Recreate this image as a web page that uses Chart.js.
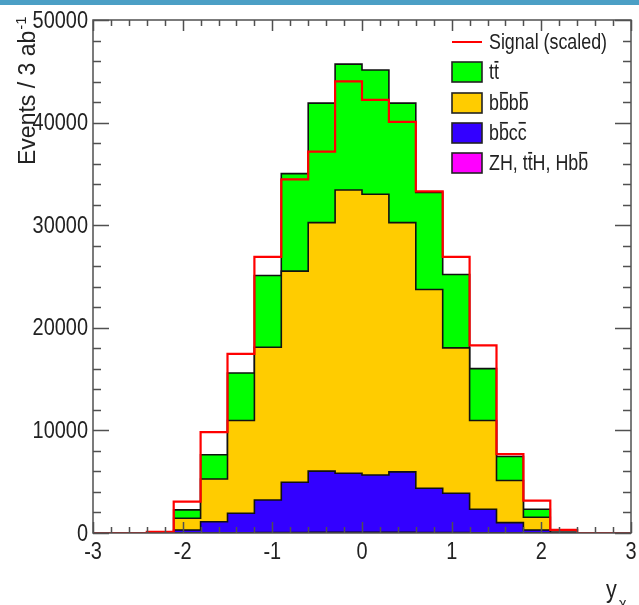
<!DOCTYPE html>
<html lang="en">
<head>
<meta charset="UTF-8">
<title>y distribution</title>
<script src="https://cdn.jsdelivr.net/npm/chart.js"></script>
<style>
  body { margin: 0; background: #fff; }
  #band { position: absolute; left: 0; top: 0; width: 639px; height: 5px; background: #4b9fc5; }
  #wrap { position: absolute; left: 0; top: 0; width: 639px; height: 605px; }
</style>
</head>
<body>
<div id="wrap"><canvas id="chart" width="639" height="605"></canvas></div>
<div id="band"></div>
<script>
// left edges of the 20 bins (width 0.3)
const binEdges = [-3, -2.7, -2.4, -2.1, -1.8, -1.5, -1.2, -0.9, -0.6, -0.3,
                  0, 0.3, 0.6, 0.9, 1.2, 1.5, 1.8, 2.1, 2.4, 2.7];
const xMax = 3;

// background components (events per bin), stacked bottom -> top
const zhEvents   = [0, 0, 0, 10, 20, 30, 40, 50, 60, 60, 60, 60, 50, 40, 30, 20, 10, 0, 0, 0];
const bbccEvents = [0, 0, 20, 280, 1080, 1890, 3180, 4900, 5970, 5770, 5600, 5900, 4310, 3840, 2280, 990, 280, 30, 0, 0];
const bbbbEvents = [0, 0, 30, 1150, 4170, 9050, 14880, 20570, 24220, 27600, 27350, 24290, 19370, 14160, 8660, 4100, 1240, 30, 0, 0];
const ttEvents   = [0, 0, 10, 810, 2350, 4630, 7000, 9510, 11650, 12270, 12110, 11650, 9470, 7160, 5050, 2340, 780, 20, 0, 0];

// signal (scaled)
const signalEvents = [0, 0, 100, 3060, 9830, 17450, 26920, 34470, 37180, 44020,
                      42220, 40070, 33300, 26920, 18290, 7690, 3160, 300, 0, 0];

// tick labels
const xTickLabels = [-3, -2, -1, 0, 1, 2, 3];
const yTickLabels = [0, 10000, 20000, 30000, 40000, 50000];

const legendLabels = ['Signal (scaled)', 'tt\u0304', 'bb\u0304bb\u0304', 'bb\u0304cc\u0304', 'ZH, tt\u0304H, Hbb\u0304'];
const colTT = '#00ff00', colBBBB = '#ffcc00', colBBCC = '#3300ff', colZH = '#ff00ff', colSig = '#ff0000';

function cumulate(...parts) {
  return parts[0].map((_, i) => parts.reduce((s, p) => s + p[i], 0));
}
function steps(vals) {
  const pts = binEdges.map((e, i) => ({ x: e, y: vals[i] }));
  pts.push({ x: xMax, y: 0 });
  return pts;
}

const cZH = cumulate(zhEvents);
const cBBCC = cumulate(zhEvents, bbccEvents);
const cBBBB = cumulate(zhEvents, bbccEvents, bbbbEvents);
const cTT = cumulate(zhEvents, bbccEvents, bbbbEvents, ttEvents);

function histo(label, vals, fillColor) {
  return {
    label: label, data: steps(vals), stepped: true, fill: 'origin',
    backgroundColor: fillColor, borderColor: '#111', borderWidth: 1.6,
    pointRadius: 0, tension: 0
  };
}

const SANS = '"Liberation Sans", Arial, sans-serif';
const SQ = 0.83; // the original plot is squeezed horizontally

// text squeezed in x, anchored at (x, y)
function sqText(ctx, str, x, y, align) {
  const w = ctx.measureText(str).width * SQ;
  let x0 = x;
  if (align === 'right') x0 = x - w;
  if (align === 'center') x0 = x - w / 2;
  ctx.save();
  ctx.translate(x0, y);
  ctx.scale(SQ, 1);
  ctx.fillText(str, 0, 0);
  ctx.restore();
}

// squeezed text where a char followed by U+0304 gets an overline
function barText(ctx, str, x, y, size) {
  ctx.save();
  ctx.translate(x, y);
  ctx.scale(SQ, 1);
  let cx = 0;
  for (let i = 0; i < str.length; i++) {
    const ch = str[i];
    if (ch === '\u0304') continue;
    ctx.fillText(ch, cx, 0);
    const w = ctx.measureText(ch).width;
    if (str[i + 1] === '\u0304') {
      ctx.fillRect(cx + w * 0.1, -size * 0.86, w * 0.8, 1.7);
    }
    cx += w;
  }
  ctx.restore();
}

const framePlugin = {
  id: 'frame',
  afterDatasetsDraw(chart) {
    const ctx = chart.ctx, ca = chart.chartArea;
    const xs = chart.scales.x, ys = chart.scales.y;
    ctx.save();
    ctx.strokeStyle = '#505050';
    ctx.lineWidth = 1.5;
    ctx.beginPath();
    for (let v = 0; v <= 50000; v += 2000) {
      const py = Math.round(ys.getPixelForValue(v)) + 0.5;
      const len = v % 10000 === 0 ? 16 : 8;
      ctx.moveTo(ca.left, py); ctx.lineTo(ca.left + len, py);
      ctx.moveTo(ca.right, py); ctx.lineTo(ca.right - len, py);
    }
    for (let i = -30; i <= 30; i += 2) {
      const px = Math.round(xs.getPixelForValue(i / 10)) + 0.5;
      const len = i % 10 === 0 ? 11 : 6;
      ctx.moveTo(px, ca.bottom); ctx.lineTo(px, ca.bottom - len);
      ctx.moveTo(px, ca.top); ctx.lineTo(px, ca.top + len);
    }
    ctx.stroke();
    ctx.strokeRect(ca.left, ca.top, ca.right - ca.left, ca.bottom - ca.top);

    // tick labels at scale positions
    ctx.fillStyle = '#222';
    ctx.font = '24px ' + SANS;
    ctx.textBaseline = 'middle';
    yTickLabels.forEach(v => sqText(ctx, String(v), ca.left - 5, ys.getPixelForValue(v) + 1, 'right'));
    ctx.textBaseline = 'top';
    xTickLabels.forEach(v => sqText(ctx, String(v), xs.getPixelForValue(v), ca.bottom + 7, 'center'));
    ctx.restore();
  },
  afterDraw(chart) {
    const ctx = chart.ctx;
    ctx.save();
    // legend
    const lx = 452, bw = 30, bh = 20;
    const rows = [42, 72, 103, 133, 163];
    const fills = [null, colTT, colBBBB, colBBCC, colZH];
    ctx.font = '21.5px ' + SANS;
    ctx.textBaseline = 'middle';
    rows.forEach((ry, k) => {
      if (k === 0) {
        ctx.strokeStyle = colSig; ctx.lineWidth = 2;
        ctx.beginPath(); ctx.moveTo(lx, ry); ctx.lineTo(lx + bw, ry); ctx.stroke();
      } else {
        ctx.fillStyle = fills[k];
        ctx.fillRect(lx, ry - bh / 2, bw, bh);
        ctx.strokeStyle = '#222'; ctx.lineWidth = 1.6;
        ctx.strokeRect(lx, ry - bh / 2, bw, bh);
      }
      ctx.fillStyle = '#222';
      barText(ctx, legendLabels[k], lx + 37, ry + 1, 14);
    });
    // y axis title
    ctx.translate(35, 165);
    ctx.rotate(-Math.PI / 2);
    ctx.textBaseline = 'alphabetic';
    ctx.font = '23px ' + SANS;
    ctx.fillStyle = '#222';
    ctx.fillText('Events / 3 ab', 0, 0);
    const w = ctx.measureText('Events / 3 ab').width;
    ctx.font = '15px ' + SANS;
    ctx.fillText('-1', w + 1, -9);
    ctx.restore();
    // x axis title
    ctx.save();
    ctx.fillStyle = '#222';
    ctx.textBaseline = 'alphabetic';
    ctx.font = '26px ' + SANS;
    sqText(ctx, 'y', 606, 598);
    ctx.font = '17px ' + SANS;
    sqText(ctx, '\u03c7', 619, 609);
    ctx.restore();
  }
};

new Chart(document.getElementById('chart'), {
  type: 'line',
  data: {
    datasets: [
      { label: legendLabels[0], data: steps(signalEvents), stepped: true, fill: false,
        borderColor: colSig, borderWidth: 2.2, pointRadius: 0, tension: 0 },
      histo(legendLabels[4], cZH, colZH),
      histo(legendLabels[3], cBBCC, colBBCC),
      histo(legendLabels[2], cBBBB, colBBBB),
      histo(legendLabels[1], cTT, colTT)
    ]
  },
  options: {
    responsive: false,
    animation: false,
    devicePixelRatio: 1,
    layout: { padding: { top: 20, right: 8, left: 0, bottom: 0 } },
    plugins: { legend: { display: false }, tooltip: { enabled: false } },
    scales: {
      x: {
        type: 'linear', min: -3, max: 3,
        grid: { display: false, drawTicks: false }, border: { display: false },
        afterFit: s => { s.height = 72; },
        ticks: { display: false, stepSize: 1 }
      },
      y: {
        min: 0, max: 50000,
        grid: { display: false, drawTicks: false }, border: { display: false },
        afterFit: s => { s.width = 93; },
        ticks: { display: false, stepSize: 10000 }
      }
    }
  },
  plugins: [framePlugin]
});
</script>
</body>
</html>
